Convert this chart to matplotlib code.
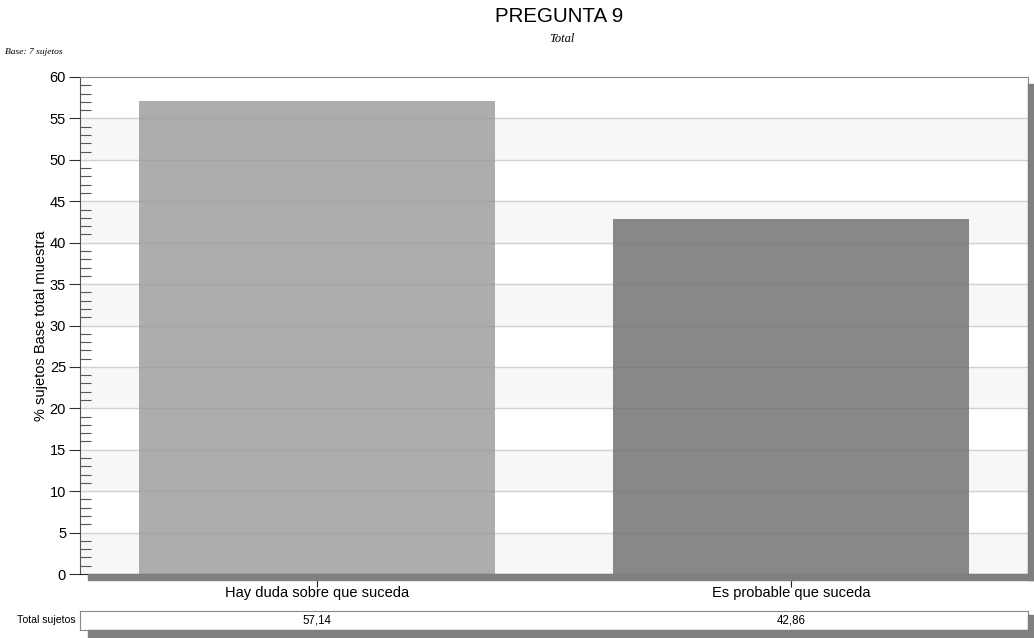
import matplotlib
matplotlib.use("Agg")
import matplotlib.pyplot as plt
from matplotlib.patches import Rectangle
from matplotlib.ticker import MultipleLocator

categories = ["Hay duda sobre que suceda", "Es probable que suceda"]
values = [57.14, 42.86]
value_labels = ["57,14", "42,86"]
bar_colors = ["#adadad", "#888888"]

plt.rcParams['font.family'] = ['Liberation Sans', 'DejaVu Sans']

W, H = 1034, 638
fig = plt.figure(figsize=(W / 100, H / 100), dpi=100)


def fx(px):
    return px / W


def fy(py):
    return 1 - py / H


# shadows behind the plot frame
shadow = "#7f7f7f"
fig.patches.append(Rectangle((fx(1028), fy(580)), fx(6), fy(84) - fy(580),
                             transform=fig.transFigure, color=shadow, zorder=0))
fig.patches.append(Rectangle((fx(88), fy(580)), fx(946), fy(574) - fy(580),
                             transform=fig.transFigure, color=shadow, zorder=0))
# shadow of the table row
fig.patches.append(Rectangle((fx(88), fy(637)), fx(946), fy(630) - fy(637),
                             transform=fig.transFigure, color=shadow, zorder=0))
fig.patches.append(Rectangle((fx(1028), fy(637)), fx(6), fy(615) - fy(637),
                             transform=fig.transFigure, color=shadow, zorder=0))

ax = fig.add_axes([fx(80), fy(574), fx(948), fy(77) - fy(574)])
ax.set_facecolor("white")

# alternating bands
for lo in range(0, 60, 10):
    ax.axhspan(lo, lo + 5, color="#f7f7f7", zorder=0)
for y in range(5, 60, 5):
    ax.axhline(y, color="#dedede", lw=1, zorder=0.5)
    ax.axhline(y, color="black", alpha=0.05, lw=1, zorder=3)

x = range(len(categories))
ax.bar(x, values, width=0.75, color=bar_colors, zorder=2)

ax.set_xlim(-0.5, 1.5)
ax.set_ylim(0, 60)
ax.yaxis.set_major_locator(MultipleLocator(5))
ax.yaxis.set_minor_locator(MultipleLocator(1))
ax.tick_params(axis="y", which="major", direction="out", length=8, width=0.8,
               color="#333333", labelsize=10.5, pad=2)
ax.tick_params(axis="y", which="minor", direction="in", length=8, width=0.8,
               color="#555555")
ax.set_xticks(list(x))
ax.set_xticklabels(categories)
ax.tick_params(axis="x", direction="inout", length=18, width=0.8,
               color="#222222", labelsize=10.5, pad=0)

for side in ["top", "right"]:
    ax.spines[side].set_color("#888888")
ax.spines["left"].set_color("#555555")
ax.spines["bottom"].set_color("#222222")

ax.set_ylabel("% sujetos Base total muestra", fontsize=10.5, labelpad=1)

# titles
fig.text(fx(559), fy(16), "PREGUNTA 9", ha="center", va="center", fontsize=14.8)
fig.text(fx(562), fy(39), "Total", ha="center", va="center", fontsize=9,
         family=["Liberation Serif"], style="italic")
fig.text(fx(5), fy(52), "Base: 7 sujetos", ha="left", va="center", fontsize=6.8,
         family=["Liberation Serif"], style="italic")

# table row
tax = fig.add_axes([fx(80), fy(630), fx(948), fy(611) - fy(630)])
tax.set_xlim(-0.5, 1.5)
tax.set_ylim(0, 1)
tax.set_xticks([])
tax.set_yticks([])
for s in tax.spines.values():
    s.set_color("#888888")
for i, lab in enumerate(value_labels):
    tax.text(i, 0.5, lab, ha="center", va="center", fontsize=8.3)
fig.text(fx(46), fy(620), "Total sujetos", ha="center", va="center", fontsize=7.6)

fig.savefig("out.png", dpi=100)
